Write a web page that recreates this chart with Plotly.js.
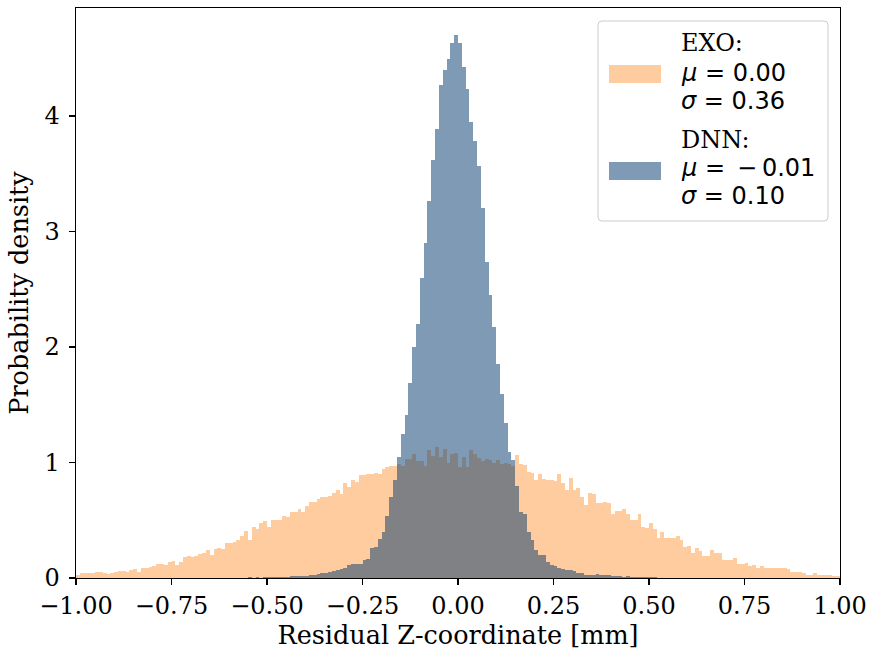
<!DOCTYPE html>
<html><head><meta charset="utf-8">
<script src="https://cdn.plot.ly/plotly-3.0.1.min.js"></script>
<style>html,body{margin:0;padding:0;background:#fff}</style>
</head><body><div id="chart" style="width:871px;height:650px"></div>
<script>
// Histogram bins: 200 bins of width 0.01 over [-1, 1]
const binLow = -1.0;
const binWidth = 0.01;

const exoDensity = [
0.03,0.045,0.04,0.04,0.04,0.055,0.055,0.04,0.035,0.04,
0.055,0.06,0.058,0.05,0.07,0.075,0.05,0.085,0.09,0.095,
0.10,0.12,0.12,0.11,0.14,0.145,0.11,0.14,0.18,0.19,
0.185,0.19,0.21,0.22,0.245,0.20,0.25,0.26,0.255,0.30,
0.305,0.31,0.33,0.36,0.41,0.33,0.44,0.42,0.48,0.49,
0.44,0.50,0.50,0.50,0.54,0.53,0.57,0.57,0.60,0.57,
0.62,0.66,0.66,0.68,0.70,0.70,0.71,0.74,0.76,0.73,
0.82,0.79,0.85,0.83,0.89,0.89,0.90,0.90,0.91,0.90,
0.94,0.96,0.97,0.97,0.99,0.97,1.03,1.03,1.07,1.01,
1.01,0.97,1.11,1.06,1.13,1.05,1.12,1.00,1.07,1.08,
0.96,1.05,0.96,1.11,1.07,1.04,1.01,1.03,1.02,1.00,
1.02,0.99,1.00,0.99,0.97,1.065,0.99,0.98,0.92,0.905,
0.85,0.90,0.86,0.85,0.85,0.84,0.90,0.82,0.76,0.87,
0.76,0.78,0.70,0.63,0.74,0.73,0.65,0.65,0.66,0.65,
0.55,0.58,0.58,0.60,0.55,0.50,0.50,0.55,0.44,0.43,
0.48,0.42,0.35,0.40,0.35,0.35,0.35,0.36,0.33,0.265,
0.28,0.22,0.26,0.23,0.19,0.19,0.24,0.22,0.22,0.16,
0.16,0.16,0.17,0.12,0.12,0.13,0.105,0.115,0.085,0.10,
0.085,0.09,0.09,0.085,0.09,0.085,0.075,0.05,0.05,0.055,
0.045,0.03,0.03,0.04,0.025,0.03,0.03,0.03,0.02,0.02
];

const dnnDensity = [
0,0,0,0,0,0,0,0,0,0,
0,0,0,0,0.001,0,0,0,0.001,0,
0,0.001,0,0.001,0,0.001,0.001,0,0.002,0.001,
0.002,0.001,0.002,0.002,0.001,0.003,0.002,0.002,0.003,0.003,
0.003,0.004,0.003,0.004,0.004,0.005,0.004,0.005,0.004,0.005,
0.005,0.006,0.008,0.01,0.01,0.012,0.015,0.015,0.02,0.02,
0.02,0.025,0.03,0.035,0.04,0.045,0.05,0.06,0.065,0.08,
0.085,0.11,0.12,0.12,0.125,0.16,0.165,0.26,0.27,0.34,
0.40,0.54,0.70,0.85,1.05,1.25,1.41,1.685,2.00,2.20,
2.595,2.90,3.26,3.62,3.89,4.27,4.40,4.49,4.635,4.70,
4.635,4.42,4.23,3.945,3.785,3.57,3.20,2.74,2.45,2.17,
1.85,1.59,1.345,1.09,1.02,0.80,0.57,0.555,0.40,0.33,
0.24,0.20,0.20,0.14,0.11,0.10,0.09,0.075,0.07,0.065,
0.06,0.045,0.045,0.025,0.025,0.03,0.035,0.03,0.025,0.025,
0.02,0.017,0.015,0.012,0.015,0.01,0.01,0.008,0.007,0.006,
0.005,0.005,0.004,0.004,0.003,0.003,0.002,0.003,0.002,0.002,
0.002,0.001,0.002,0.001,0.001,0.001,0,0.001,0,0,
0,0,0.001,0,0,0,0,0,0,0,
0,0,0,0,0,0,0,0,0,0,
0,0,0,0,0,0,0,0,0,0
];

const xTickVals = [-1, -0.75, -0.5, -0.25, 0, 0.25, 0.5, 0.75, 1];
const xTickText = ['\u22121.00','\u22120.75','\u22120.50','\u22120.25','0.00','0.25','0.50','0.75','1.00'];
const yTickVals = [0, 1, 2, 3, 4];
const yTickText = ['0', '1', '2', '3', '4'];
const seriesNames = ['EXO:', 'DNN:'];
const exoStats = ['<i>\u03bc</i> = 0.00', '<i>\u03c3</i> = 0.36'];
const dnnStats = ['<i>\u03bc</i> =\u2002\u2212\u20090.01', '<i>\u03c3</i> = 0.10'];

const exoColor = 'rgba(255,127,14,0.4)';
const dnnColor = 'rgba(0,53,105,0.5)';

const binCenters = exoDensity.map((_, i) => binLow + binWidth * (i + 0.5));

const traces = [
  {type: 'bar', x: binCenters, y: exoDensity, width: binWidth, name: 'EXO',
   marker: {color: exoColor, line: {width: 0}}, showlegend: false, hoverinfo: 'skip'},
  {type: 'bar', x: binCenters, y: dnnDensity, width: binWidth, name: 'DNN',
   marker: {color: dnnColor, line: {width: 0}}, showlegend: false, hoverinfo: 'skip'}
];

const serif = 'DejaVu Serif, serif';
const sans = 'DejaVu Sans, sans-serif';
const W = 871, H = 650, L = 76, R = 31, T = 8, B = 72;
const pw = W - L - R, ph = H - T - B;
const px = x => (x - L) / pw;
const py = y => (H - B - y) / ph;

function roundRect(x0, y0, x1, y1, r) {
  const rx = r / pw, ry = r / ph;
  const a = px(x0), b = px(x1), c = py(y1), d = py(y0);
  return `M${a+rx},${c} L${b-rx},${c} Q${b},${c} ${b},${c+ry} L${b},${d-ry} Q${b},${d} ${b-rx},${d} L${a+rx},${d} Q${a},${d} ${a},${d-ry} L${a},${c+ry} Q${a},${c} ${a+rx},${c} Z`;
}

const shapes = [
  {type: 'path', xref: 'paper', yref: 'paper', path: roundRect(598, 21, 828, 221, 4),
   fillcolor: 'rgba(255,255,255,0.8)', line: {color: '#cccccc', width: 1}},
  {type: 'rect', xref: 'paper', yref: 'paper', x0: px(609), x1: px(661), y0: py(83), y1: py(65),
   fillcolor: exoColor, line: {width: 0}},
  {type: 'rect', xref: 'paper', yref: 'paper', x0: px(609), x1: px(661), y0: py(180), y1: py(162),
   fillcolor: dnnColor, line: {width: 0}}
];

const legendLines = [
  {text: seriesNames[0], y: 43, font: serif, size: 24},
  {text: exoStats[0], y: 73, font: sans, size: 24},
  {text: exoStats[1], y: 101, font: sans, size: 24},
  {text: seriesNames[1], y: 140, font: serif, size: 24},
  {text: dnnStats[0], y: 168, font: sans, size: 24},
  {text: dnnStats[1], y: 196, font: sans, size: 24}
];
const annotations = legendLines.map(l => ({
  xref: 'paper', yref: 'paper', x: px(679), y: py(l.y), xanchor: 'left', yanchor: 'middle',
  text: l.text, showarrow: false, font: {family: l.font, size: l.size, color: '#000'}
}));

const layout = {
  width: W, height: H,
  margin: {l: L, r: R, t: T, b: B, pad: 0},
  paper_bgcolor: '#fff', plot_bgcolor: '#fff',
  barmode: 'overlay', bargap: 0,
  font: {family: serif, size: 24, color: '#000'},
  xaxis: {
    range: [-1, 1], tickmode: 'array', tickvals: xTickVals, ticktext: xTickText,
    showgrid: false, zeroline: false, showline: true, mirror: true, linecolor: '#000', linewidth: 1.3,
    ticks: 'outside', ticklen: 6, tickwidth: 1.3, tickcolor: '#000',
    tickfont: {family: serif, size: 24},
    title: {text: 'Residual Z-coordinate [mm]', font: {family: serif, size: 25.5}, standoff: 4}
  },
  yaxis: {
    range: [0, 4.935], tickmode: 'array', tickvals: yTickVals, ticktext: yTickText,
    showgrid: false, zeroline: false, showline: true, mirror: true, linecolor: '#000', linewidth: 1.3,
    ticks: 'outside', ticklen: 6, tickwidth: 1.3, tickcolor: '#000',
    tickfont: {family: serif, size: 24}, ticklabelstandoff: 4,
    title: {text: 'Probability density', font: {family: serif, size: 25.5}, standoff: 8}
  },
  shapes: shapes,
  annotations: annotations
};

Plotly.newPlot('chart', traces, layout, {displayModeBar: false, staticPlot: true});
</script>
</body></html>
